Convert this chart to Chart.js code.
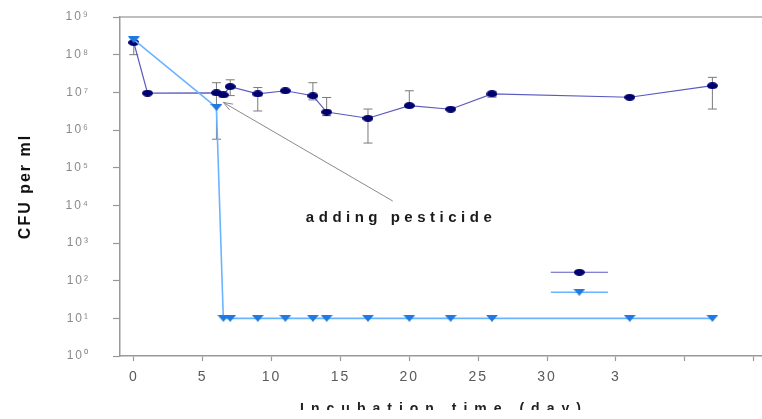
<!DOCTYPE html>
<html><head><meta charset="utf-8">
<script src="https://cdn.jsdelivr.net/npm/chart.js@4/dist/chart.umd.min.js"></script>
<style>html,body{margin:0;padding:0;background:#fff;overflow:hidden}</style>
</head><body>
<canvas id="c" width="762" height="419"></canvas>
<script>
// ---- data ----
const seriesNames = ['control', 'with pesticide'];
const days1 = [0, 1, 6, 6.5, 7, 9, 11, 13, 14, 17, 20, 23, 26, 36, 42];
const cfu1  = [2.1e8, 9.5e6, 9.7e6, 8.5e6, 1.42e7, 9.1e6, 1.1e7, 8.1e6, 3.0e6, 2.05e6, 4.45e6, 3.56e6, 9.1e6, 7.4e6, 1.5e7];
const err1Lo = [1.0e8, null, null, null, 8.2e6, 3.2e6, null, 6.3e6, 2.4e6, 4.5e5, 4.45e6, null, 7.4e6, null, 3.6e6];
const err1Hi = [2.8e8, null, null, null, 2.15e7, 1.34e7, null, 1.8e7, 7.3e6, 3.6e6, 1.1e7, null, 1.05e7, null, 2.5e7];

const days2 = [0, 6, 6.5, 7, 9, 11, 13, 14, 17, 20, 23, 26, 36, 42];
const cfu2  = [2.5e8, 3.96e6, 10, 10, 10, 10, 10, 10, 10, 10, 10, 10, 10, 10];
const err2Lo = [2.2e8, 5.7e5, null, null, null, null, null, null, null, null, null, null, null, null];
const err2Hi = [3.0e8, 1.8e7, null, null, null, null, null, null, null, null, null, null, null, null];

const yTickValues = [1, 10, 1e2, 1e3, 1e4, 1e5, 1e6, 1e7, 1e8, 1e9];
const yTickLabels = ['10⁰','10¹','10²','10³','10⁴','10⁵','10⁶','10⁷','10⁸','10⁹'];
const xTickValues = [0, 5, 10, 15, 20, 25, 30, 35, 40, 45];
const xTickLabels = ['0','5','10','15','20','25','30','3','',''];

const yTitle = 'CFU per ml';
const xTitle = 'Incubation time (day)';
const noteText = 'adding pesticide';
const noteTextAt = [19.4, 4.6e3];
const arrowFrom = [18.8, 1.3e4];
const arrowTo = [6.5, 5.4e6];

// ---- styles ----
const c1Marker = '#00006e', c1Line = '#5a5ac0';
const c2Marker = '#1e7ae0', c2Line = '#6ab4ff';

function ellipseImg(w, h, color) {
  const c = document.createElement('canvas'); c.width = w; c.height = h;
  const g = c.getContext('2d'); g.fillStyle = color;
  g.beginPath(); g.ellipse(w/2, h/2, w/2, h/2, 0, 0, Math.PI*2); g.fill();
  return c;
}
function triImg(w, h, color) {
  const c = document.createElement('canvas'); c.width = w; c.height = h;
  const g = c.getContext('2d'); g.fillStyle = color;
  g.beginPath(); g.moveTo(0, 0); g.lineTo(w, 0); g.lineTo(w/2, h); g.closePath(); g.fill();
  return c;
}
const img1 = ellipseImg(11, 7, c1Marker);
const img2 = triImg(12, 7, c2Marker);

const errPlugin = {
  id: 'errbars',
  beforeDatasetsDraw(chart) {
    const {ctx, scales: {x, y}} = chart;
    ctx.save();
    ctx.strokeStyle = '#7a7a7a'; ctx.lineWidth = 1;
    const sets = [[days1, err1Lo, err1Hi], [days2, err2Lo, err2Hi]];
    sets.forEach(([ds, lo, hi]) => {
      ds.forEach((d, i) => {
        if (lo[i] == null || hi[i] == null) return;
        const px = x.getPixelForValue(d);
        const y1 = y.getPixelForValue(lo[i]), y2 = y.getPixelForValue(hi[i]);
        ctx.beginPath();
        ctx.moveTo(px, y1); ctx.lineTo(px, y2);
        ctx.moveTo(px - 4.5, y1); ctx.lineTo(px + 4.5, y1);
        ctx.moveTo(px - 4.5, y2); ctx.lineTo(px + 4.5, y2);
        ctx.stroke();
      });
    });
    ctx.restore();
  }
};

const decoPlugin = {
  id: 'deco',
  beforeDraw(chart) { chart.ctx.letterSpacing = '2px'; },
  afterDraw(chart) {
    const {ctx, chartArea: a, scales: {x, y}} = chart;
    ctx.save();
    ctx.letterSpacing = '0px';
    // top border
    ctx.strokeStyle = '#aaaaaa'; ctx.lineWidth = 1.5;
    ctx.beginPath(); ctx.moveTo(a.left, a.top); ctx.lineTo(a.right, a.top); ctx.stroke();
    // arrow
    const fx = x.getPixelForValue(arrowFrom[0]), fy = y.getPixelForValue(arrowFrom[1]);
    const tx = x.getPixelForValue(arrowTo[0]), ty = y.getPixelForValue(arrowTo[1]);
    ctx.strokeStyle = '#8a8a8a'; ctx.lineWidth = 1;
    ctx.beginPath(); ctx.moveTo(fx, fy); ctx.lineTo(tx, ty); ctx.stroke();
    const ang = Math.atan2(ty - fy, tx - fx), L = 10, sp = 0.35;
    ctx.beginPath();
    ctx.moveTo(tx - L*Math.cos(ang - sp), ty - L*Math.sin(ang - sp)); ctx.lineTo(tx, ty);
    ctx.lineTo(tx - L*Math.cos(ang + sp), ty - L*Math.sin(ang + sp));
    ctx.stroke();
    // annotation text
    ctx.fillStyle = '#1a1a1a';
    ctx.font = 'bold 15px "Liberation Sans", Arial, sans-serif';
    ctx.letterSpacing = '4.5px';
    ctx.textAlign = 'center'; ctx.textBaseline = 'middle';
    ctx.fillText(noteText, x.getPixelForValue(noteTextAt[0]), y.getPixelForValue(noteTextAt[1]));
    // legend samples
    const lx1 = a.left + a.width * 0.671, lx2 = a.left + a.width * 0.76;
    const ly1 = a.top + a.height * 0.753, ly2 = a.top + a.height * 0.812;
    ctx.lineWidth = 1.2; ctx.strokeStyle = c1Line;
    ctx.beginPath(); ctx.moveTo(lx1, ly1); ctx.lineTo(lx2, ly1); ctx.stroke();
    ctx.drawImage(img1, (lx1+lx2)/2 - img1.width/2, ly1 - img1.height/2);
    ctx.lineWidth = 1.5; ctx.strokeStyle = c2Line;
    ctx.beginPath(); ctx.moveTo(lx1, ly2); ctx.lineTo(lx2, ly2); ctx.stroke();
    ctx.drawImage(img2, (lx1+lx2)/2 - img2.width/2, ly2 - img2.height/2);
    // x title (cut off at the bottom as in the reference)
    ctx.beginPath(); ctx.rect(0, a.bottom + 44, chart.width, 10); ctx.clip();
    ctx.fillStyle = '#222';
    ctx.font = 'bold 14px "Liberation Sans", Arial, sans-serif';
    ctx.letterSpacing = '7px';
    ctx.textAlign = 'center'; ctx.textBaseline = 'alphabetic';
    ctx.fillText(xTitle, (a.left + a.right) / 2 + 3, a.bottom + 57);
    ctx.restore();
  }
};

new Chart(document.getElementById('c'), {
  type: 'line',
  data: {
    datasets: [
      {
        label: seriesNames[1],
        data: days2.map((d, i) => ({x: d, y: cfu2[i]})),
        borderColor: c2Line, borderWidth: 1.6, pointStyle: img2, pointRadius: 5,
        backgroundColor: c2Marker, tension: 0, fill: false
      },
      {
        label: seriesNames[0],
        data: days1.map((d, i) => ({x: d, y: cfu1[i]})),
        borderColor: c1Line, borderWidth: 1.2, pointStyle: img1, pointRadius: 5,
        backgroundColor: c1Marker, tension: 0, fill: false
      }
    ]
  },
  options: {
    responsive: false, animation: false,
    layout: {autoPadding: false, padding: {top: 17, right: 0, left: 0, bottom: 0}},
    plugins: {legend: {display: false}, tooltip: {enabled: false}},
    scales: {
      x: {
        type: 'linear', min: -1, max: 45.6,
        afterBuildTicks: s => { s.ticks = xTickValues.map(v => ({value: v})); },
        afterFit: s => { s.height = 63; s.paddingLeft = 0; s.paddingRight = 0; },
        ticks: {
          callback: v => { const k = xTickValues.indexOf(v); return k < 0 ? '' : xTickLabels[k]; },
          color: '#5a5a5a', font: {size: 14, family: '"Liberation Sans", Arial, sans-serif'},
          padding: 8, maxRotation: 0, autoSkip: false
        },
        grid: {drawOnChartArea: false, tickLength: 5, color: '#999', tickWidth: 1.2},
        border: {color: '#999', width: 1.5}
      },
      y: {
        type: 'logarithmic', min: 1, max: 1e9,
        afterBuildTicks: s => { s.ticks = yTickValues.map(v => ({value: v})); },
        afterFit: s => { s.width = 120; s.paddingTop = 8; s.paddingBottom = 8; },
        ticks: {
          callback: v => { const k = yTickValues.indexOf(v); return k < 0 ? '' : yTickLabels[k]; },
          color: '#8a8a8a', font: {size: 12, family: '"Liberation Sans", Arial, sans-serif'},
          padding: 23, autoSkip: false
        },
        grid: {drawOnChartArea: false, tickLength: 7, color: '#999', tickWidth: 1.2},
        border: {color: '#999', width: 1.5},
        title: {
          display: true, text: yTitle, color: '#111',
          font: {size: 16, weight: 'bold', family: '"Liberation Sans", Arial, sans-serif'},
          padding: {top: 16, bottom: 0}
        }
      }
    }
  },
  plugins: [errPlugin, decoPlugin]
});
</script>
</body></html>
